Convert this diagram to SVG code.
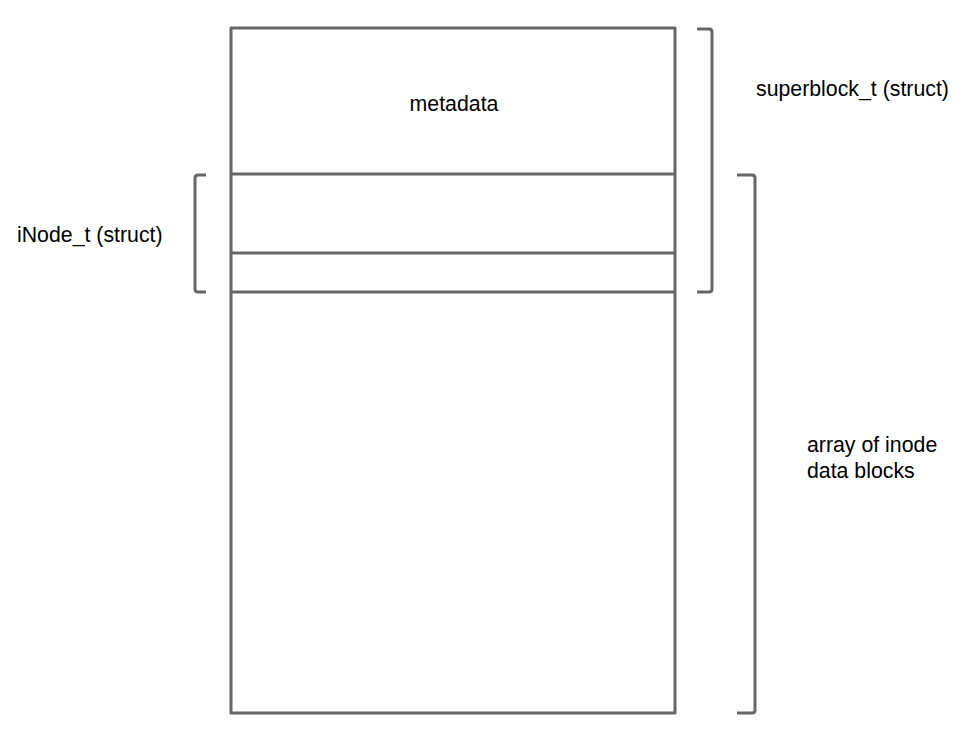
<svg xmlns="http://www.w3.org/2000/svg" width="977" height="746" viewBox="0 0 977 746">
<style>
.s{fill:none;stroke:#666;stroke-width:3;stroke-linejoin:round}
.t{font-family:"Liberation Sans",Arial,sans-serif;font-size:21.3px;fill:#000}
</style>
<rect width="977" height="746" fill="#fff"/>
<g id="memory">
<rect class="s" x="231" y="28" width="444" height="685"/>
<line class="s" x1="231" y1="174" x2="675" y2="174"/>
<line class="s" x1="231" y1="253" x2="675" y2="253"/>
<line class="s" x1="231" y1="292" x2="675" y2="292"/>
<text class="t" x="454" y="111" text-anchor="middle">metadata</text>
</g>
<g id="connectors">
<path class="s" d="M697 29 H709 Q712 29 712 32 V289 Q712 292 709 292 H697"/>
<path class="s" d="M737 175 H752 Q755 175 755 178 V710 Q755 713 752 713 H737"/>
<path class="s" d="M206 175 H198 Q195 175 195 178 V289 Q195 292 198 292 H206"/>
</g>
<g id="superblock"><text class="t" x="756" y="96">superblock_t (struct)</text></g>
<g id="inode"><text class="t" x="17" y="242">iNode_t (struct)</text></g>
<g id="array"><text class="t" x="807" y="452">array of inode</text><text class="t" x="807" y="478">data blocks</text></g>
</svg>
